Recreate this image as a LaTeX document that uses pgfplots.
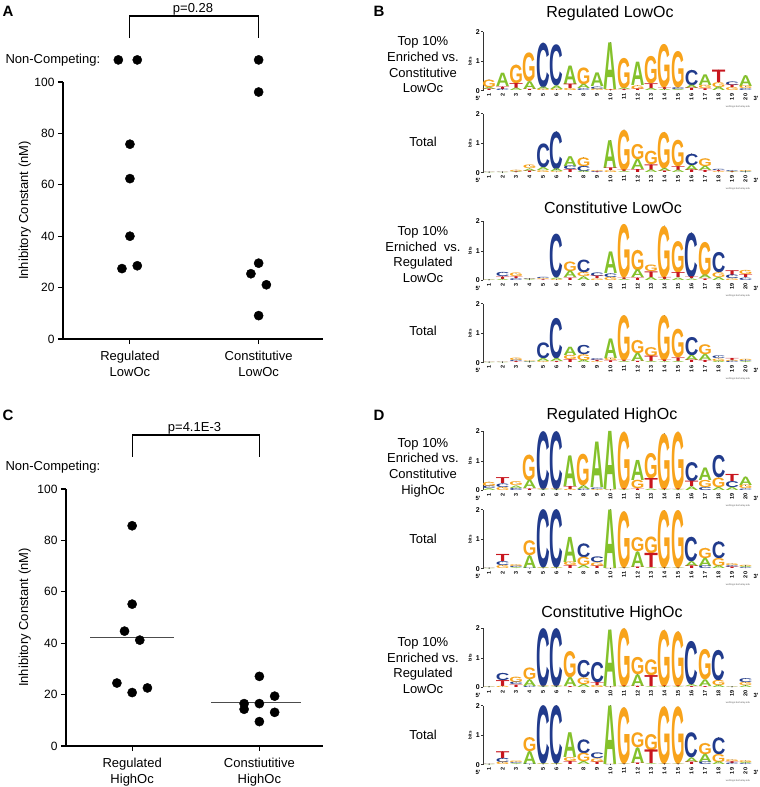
\documentclass[border=0pt]{standalone}
\usepackage{pgfplots}
\pgfplotsset{compat=1.18}
\usepackage{pgfplotstable}
\usepackage{graphicx}
\usepackage{fontspec}
\setmainfont{Liberation Sans}
\definecolor{nA}{HTML}{84C12B}
\definecolor{nC}{HTML}{213B8C}
\definecolor{nG}{HTML}{F8A31B}
\definecolor{nT}{HTML}{C8161E}
\newcommand\logoletter[2]{\edef\lettx{#1}\pgfmathsetlengthmacro\lh{max(#2*29.5,0.05)}\textcolor{n\lettx}{\resizebox{13.6pt}{\lh}{\bfseries\lettx}}}

\pgfplotstableread{
x h1 L1 h2 L2 h3 L3
1 0.05 T 0.07 A 0.25 G
2 0.05 C 0.08 T 0.45 A
3 0.08 A 0.17 T 0.62 G
4 0.04 T 0.26 A 0.97 G
5 0.04 G 0.08 A 1.50 C
6 0.04 G 0.12 A 1.38 C
7 0.07 G 0.15 T 0.62 A
8 0.06 C 0.14 A 0.56 G
9 0.05 G 0.08 C 0.46 A
10 0.02 T 0.03 G 1.58 A
11 0.03 T 0.05 A 1.02 G
12 0.05 T 0.12 G 0.79 A
13 0.07 A 0.16 T 0.92 G
14 0.04 A 0.06 T 1.46 G
15 0.04 A 0.06 C 1.22 G
16 0.08 T 0.11 A 0.51 C
17 0.06 T 0.11 G 0.36 A
18 0.12 A 0.16 G 0.42 T
19 0.10 G 0.08 T 0.12 C
20 0.06 C 0.09 G 0.36 A
}\logoA
\pgfplotstableread{
x h1 L1 h2 L2 h3 L3
1 0.01 A 0.01 C 0.01 G
2 0.01 A 0.01 C 0.01 G
3 0.02 T 0.03 A 0.04 G
4 0.05 T 0.08 A 0.12 G
5 0.06 G 0.10 A 0.80 C
6 0.03 G 0.09 A 1.27 C
7 0.10 T 0.12 C 0.33 A
8 0.05 A 0.17 C 0.29 G
9 0.02 T 0.03 C 0.03 G
10 0.06 G 0.09 T 0.94 A
11 0.04 A 0.05 T 1.36 G
12 0.10 T 0.34 A 0.51 G
13 0.09 A 0.19 T 0.45 G
14 0.05 T 0.10 A 1.22 G
15 0.08 A 0.13 T 0.89 G
16 0.09 T 0.17 A 0.38 C
17 0.07 T 0.14 A 0.26 G
18 0.03 G 0.03 T 0.04 C
19 0.02 A 0.03 T 0.03 C
20 0.02 C 0.02 A 0.03 G
}\logoB
\pgfplotstableread{
x h1 L1 h2 L2 h3 L3
1 0.01 A 0.01 G 0.01 C
2 0.04 A 0.08 T 0.14 C
3 0.06 C 0.06 T 0.12 G
4 0.02 A 0.02 C 0.02 G
5 0.02 T 0.03 G 0.04 C
6 0.03 G 0.05 A 1.47 C
7 0.08 T 0.22 A 0.32 G
8 0.12 A 0.14 G 0.42 C
9 0.05 G 0.08 T 0.12 C
10 0.10 G 0.12 C 0.73 A
11 0.04 A 0.05 T 1.80 G
12 0.08 T 0.26 A 0.68 G
13 0.10 A 0.19 T 0.22 G
14 0.04 A 0.07 T 1.73 G
15 0.08 A 0.17 T 1.05 G
16 0.05 A 0.06 T 1.50 C
17 0.05 T 0.12 A 1.12 G
18 0.10 A 0.16 G 0.68 C
19 0.05 G 0.12 C 0.16 T
20 0.08 C 0.10 T 0.14 G
}\logoC
\pgfplotstableread{
x h1 L1 h2 L2 h3 L3
1 0.01 A 0.01 G 0.01 C
2 0.01 A 0.01 G 0.01 C
3 0.03 T 0.04 C 0.08 G
4 0.02 A 0.02 C 0.02 G
5 0.03 G 0.10 A 0.53 C
6 0.03 T 0.10 A 1.36 C
7 0.10 T 0.14 G 0.28 A
8 0.08 A 0.19 G 0.31 C
9 0.03 G 0.04 T 0.06 C
10 0.06 T 0.08 G 0.66 A
11 0.04 A 0.04 T 1.52 G
12 0.04 T 0.28 A 0.44 G
13 0.04 A 0.18 T 0.30 G
14 0.03 A 0.05 T 1.52 G
15 0.04 A 0.12 T 0.96 G
16 0.08 T 0.17 A 0.61 C
17 0.07 T 0.20 A 0.33 G
18 0.05 A 0.08 G 0.09 C
19 0.04 C 0.04 G 0.07 T
20 0.03 A 0.03 C 0.04 G
}\logoD
\pgfplotstableread{
x h1 L1 h2 L2 h3 L3
1 0.06 A 0.08 C 0.14 G
2 0.10 G 0.12 C 0.20 T
3 0.07 C 0.08 A 0.13 G
4 0.05 T 0.28 A 0.86 G
5 0.02 A 0.02 G 1.96 C
6 0.02 A 0.02 G 1.96 C
7 0.04 G 0.10 T 1.03 A
8 0.04 C 0.12 A 1.06 G
9 0.03 G 0.05 C 1.54 A
10 0.01 C 0.02 G 1.97 A
11 0.02 A 0.02 T 1.94 G
12 0.05 T 0.28 G 0.68 A
13 0.05 A 0.34 T 0.85 G
14 0.02 A 0.02 T 1.88 G
15 0.02 A 0.02 T 1.94 G
16 0.12 A 0.18 T 0.64 C
17 0.10 C 0.24 G 0.42 A
18 0.10 A 0.32 G 0.75 C
19 0.10 A 0.20 C 0.24 T
20 0.05 C 0.12 G 0.28 A
}\logoE
\pgfplotstableread{
x h1 L1 h2 L2 h3 L3
1 0.01 A 0.01 C 0.01 G
2 0.10 G 0.13 C 0.24 T
3 0.03 A 0.04 C 0.06 G
4 0.02 C 0.42 A 0.50 G
5 0.02 A 0.02 G 1.96 C
6 0.02 A 0.02 G 1.96 C
7 0.10 T 0.12 G 0.85 A
8 0.10 A 0.28 G 0.46 C
9 0.08 T 0.12 G 0.19 C
10 0.01 C 0.01 G 1.98 A
11 0.02 A 0.02 T 1.89 G
12 0.05 T 0.52 A 0.47 G
13 0.03 A 0.48 T 0.56 G
14 0.02 A 0.02 T 1.93 G
15 0.02 A 0.02 T 1.93 G
16 0.09 T 0.16 A 0.82 C
17 0.09 C 0.27 A 0.34 G
18 0.09 A 0.27 G 0.56 C
19 0.05 T 0.06 C 0.06 G
20 0.03 C 0.04 A 0.04 G
}\logoF
\pgfplotstableread{
x h1 L1 h2 L2 h3 L3
1 0.01 A 0.01 G 0.01 C
2 0.04 G 0.20 T 0.24 C
3 0.08 T 0.08 C 0.18 G
4 0.04 C 0.22 A 0.39 G
5 0.02 A 0.02 G 1.96 C
6 0.02 A 0.02 G 1.96 C
7 0.03 T 0.30 A 0.88 G
8 0.10 A 0.22 G 0.58 C
9 0.07 G 0.10 T 0.68 C
10 0.01 C 0.02 G 1.91 A
11 0.02 A 0.02 T 1.96 G
12 0.04 T 0.39 A 0.58 G
13 0.03 A 0.37 T 0.53 G
14 0.02 A 0.02 T 1.90 G
15 0.02 A 0.02 T 1.85 G
16 0.03 T 0.06 A 1.46 C
17 0.03 T 0.22 A 1.02 G
18 0.07 A 0.17 G 1.02 C
19 0.01 A 0.01 G 0.01 C
20 0.06 A 0.10 G 0.13 C
}\logoG
\pgfplotstableread{
x h1 L1 h2 L2 h3 L3
1 0.01 A 0.01 C 0.01 G
2 0.08 G 0.14 C 0.23 T
3 0.03 A 0.03 C 0.05 G
4 0.02 C 0.43 A 0.47 G
5 0.02 A 0.02 G 1.96 C
6 0.02 A 0.02 G 1.96 C
7 0.10 T 0.13 G 0.84 A
8 0.10 A 0.28 G 0.46 C
9 0.08 T 0.12 G 0.19 C
10 0.01 C 0.01 G 1.98 A
11 0.02 A 0.02 T 1.89 G
12 0.05 T 0.52 A 0.50 G
13 0.03 A 0.46 T 0.54 G
14 0.02 A 0.02 T 1.92 G
15 0.02 A 0.02 T 1.92 G
16 0.08 T 0.15 A 0.84 C
17 0.09 C 0.27 A 0.37 G
18 0.09 A 0.27 G 0.56 C
19 0.05 C 0.06 T 0.06 G
20 0.03 C 0.04 A 0.06 G
}\logoH

\pgfplotsset{
  logoaxis/.style={
    x=13.5pt, y=29.5pt, xmin=0.55, xmax=20.7, ymin=0, ymax=2,
    anchor=south west, clip=false, stack plots=y,
    axis lines=left, axis line style={-, line width=0.6pt, black!80},
    x axis line style={draw=none},
    xtick={1,...,20}, ytick={0,1,2},
    tick align=outside, major tick length=2pt,
    x tick style={draw=none}, y tick style={line width=0.5pt, black!80},
    x tick label style={rotate=90, anchor=east, inner sep=1pt, font=\bfseries\fontsize{5.5}{6}\selectfont},
    y tick label style={inner sep=1pt, font=\bfseries\fontsize{7}{8}\selectfont},
    ylabel={bits},
    every axis y label/.style={at={(axis description cs:-0.048,0.5)}, rotate=90, anchor=center, font=\bfseries\fontsize{4.5}{5}\selectfont},
    /pgf/number format/assume math mode=true,
  },
  logolayer/.style={only marks, mark=*, mark size=0.1pt, mark options={draw=none, fill=none},
    point meta=explicit symbolic,
    nodes near coords={\logoletter{\pgfplotspointmeta}{\hh}},
    every node near coord/.append style={anchor=north, inner sep=0pt, outer sep=0pt}},
  scat/.style={only marks, mark=*, mark size=4.6pt, black},
  panel/.style={scale only axis, anchor=south west, xmin=0.48, xmax=2.5, ymin=0, ymax=100,
    axis lines=left, axis line style={-, line width=1.1pt},
    xtick={1,2}, ytick={0,20,...,100}, tick align=outside, major tick length=5pt,
    tick style={line width=1.1pt, black},
    x tick label style={align=center, font=\fontsize{13}{16}\selectfont, yshift=-3.5pt},
    y tick label style={font=\fontsize{12}{14}\selectfont},
    ylabel={Inhibitory Constant (nM)},
    clip=false, /pgf/number format/assume math mode=true},
}

\newcommand\drawlogo[2]{%
\begin{axis}[logoaxis, at={(483pt,-#2pt)}]
\addplot[logolayer, visualization depends on={\thisrow{h1}\as\hh}] table[x=x,y=h1,meta=L1]{#1};
\addplot[logolayer, visualization depends on={\thisrow{h2}\as\hh}] table[x=x,y=h2,meta=L2]{#1};
\addplot[logolayer, visualization depends on={\thisrow{h3}\as\hh}] table[x=x,y=h3,meta=L3]{#1};
\end{axis}
\node[font=\bfseries\fontsize{6}{7}\selectfont, yshift=-8pt] at (478pt,-#2pt) {5'};
\node[font=\bfseries\fontsize{6}{7}\selectfont, yshift=-8pt] at (756pt,-#2pt) {3'};
\node[font=\fontsize{2.5}{3}\selectfont, text=black!60, yshift=-16pt] at (738pt,-#2pt) {weblogo.berkeley.edu};
}

\begin{document}
\begin{tikzpicture}
\useasboundingbox (0,0) rectangle (760pt,-787pt);

% ---------- Panel A ----------
\begin{axis}[panel, width=260pt, height=257pt, at={(63pt,-339pt)},
  xticklabels={{Regulated\\LowOc},{Constitutive\\LowOc}},
  every axis y label/.style={at={(axis description cs:-0.147,0.5)}, rotate=90, anchor=center, font=\fontsize{13}{15}\selectfont}]
\addplot[scat] coordinates {(0.91,108.6) (1.057,108.6) (1,75.8) (1,62.4) (1,40.0) (0.938,27.4) (1.057,28.5)};
\addplot[scat] coordinates {(2,108.6) (2,96.1) (2,29.5) (1.94,25.4) (2.06,21.1) (2,9.1)};
\addplot[black, line width=1.1pt, mark=none] coordinates {(1,117.1) (1,125.7) (2,125.7) (2,117.1)};
\node[font=\fontsize{13}{15}\selectfont] at (axis cs:1.49,128.3) {p=0.28};
\end{axis}

% ---------- Panel C ----------
\begin{axis}[panel, width=257pt, height=257pt, at={(66pt,-746pt)},
  xticklabels={{Regulated\\HighOc},{Constiutitive\\HighOc}},
  every axis y label/.style={at={(axis description cs:-0.16,0.5)}, rotate=90, anchor=center, font=\fontsize{13}{15}\selectfont}]
\addplot[scat] coordinates {(1,85.7) (1,55.2) (0.94,44.7) (1.06,41.2) (0.88,24.5) (1,20.8) (1.12,22.6)};
\addplot[scat] coordinates {(2,27.1) (1.88,16.5) (1.88,14.3) (2,16.5) (2.12,19.4) (2.12,13.1) (2,9.5)};
\addplot[black!70, line width=1.1pt, mark=none] coordinates {(0.67,42.1) (1.33,42.1)};
\addplot[black!70, line width=1.1pt, mark=none] coordinates {(1.62,16.8) (2.33,16.8)};
\addplot[black, line width=1.1pt, mark=none] coordinates {(1,112.5) (1,121) (2,121) (2,112.5)};
\node[font=\fontsize{13}{15}\selectfont] at (axis cs:1.49,123.6) {p=4.1E-3};
\end{axis}

\node[anchor=west, font=\fontsize{13}{15}\selectfont] at (2pt,-60pt) {Non-Competing:};
\node[anchor=west, font=\fontsize{13}{15}\selectfont] at (2pt,-467pt) {Non-Competing:};

% panel letters
\node[font=\bfseries\fontsize{15}{16}\selectfont] at (8pt,-11pt) {A};
\node[font=\bfseries\fontsize{15}{16}\selectfont] at (379pt,-11pt) {B};
\node[font=\bfseries\fontsize{15}{16}\selectfont] at (8pt,-415pt) {C};
\node[font=\bfseries\fontsize{15}{16}\selectfont] at (379pt,-415pt) {D};

% titles
\node[font=\fontsize{16}{18}\selectfont] at (610pt,-13pt) {Regulated LowOc};
\node[font=\fontsize{16}{18}\selectfont] at (613pt,-208pt) {Constitutive LowOc};
\node[font=\fontsize{16}{18}\selectfont] at (612pt,-415pt) {Regulated HighOc};
\node[font=\fontsize{16}{18}\selectfont] at (612pt,-613pt) {Constitutive HighOc};

% row labels
\node[align=center, font=\fontsize{13}{15.8}\selectfont] at (423pt,-64.7pt) {Top 10\%\\Enriched vs.\\Constitutive\\LowOc};
\node[font=\fontsize{13}{15}\selectfont] at (423pt,-141.7pt) {Total};
\node[align=center, font=\fontsize{13}{15.8}\selectfont] at (423pt,-254.5pt) {Top 10\%\\Erniched\ \ vs.\\Regulated\\LowOc};
\node[font=\fontsize{13}{15}\selectfont] at (423pt,-330.7pt) {Total};
\node[align=center, font=\fontsize{13}{15.8}\selectfont] at (423pt,-467.7pt) {Top 10\%\\Enriched vs.\\Constitutive\\HighOc};
\node[font=\fontsize{13}{15}\selectfont] at (423pt,-539pt) {Total};
\node[align=center, font=\fontsize{13}{15.8}\selectfont] at (423pt,-665.6pt) {Top 10\%\\Enriched vs.\\Regulated\\LowOc};
\node[font=\fontsize{13}{15}\selectfont] at (423pt,-735pt) {Total};

% logos
\drawlogo{\logoA}{90.7}
\drawlogo{\logoB}{172.7}
\drawlogo{\logoC}{280.3}
\drawlogo{\logoD}{362.7}
\drawlogo{\logoE}{490.3}
\drawlogo{\logoF}{568.7}
\drawlogo{\logoG}{687.3}
\drawlogo{\logoH}{764.7}
\end{tikzpicture}
\end{document}
